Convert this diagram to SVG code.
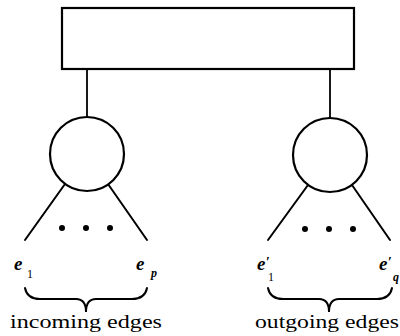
<svg xmlns="http://www.w3.org/2000/svg" width="400" height="336" viewBox="0 0 400 336">
<style>
.s{fill:none;stroke:#000;stroke-linecap:round}
.n{fill:#fff;stroke:#000;stroke-width:2.2}
.d{fill:#000}
.t{font-family:"Liberation Serif",serif;font-size:18px;fill:#000}
.e{font-family:"Liberation Serif",serif;font-style:italic;font-weight:bold;font-size:19px;fill:#000}
.sub{font-family:"Liberation Serif",serif;font-size:12px;fill:#000}
.si{font-family:"Liberation Serif",serif;font-style:italic;font-weight:bold;font-size:12px;fill:#000}
.pr{font-family:"Liberation Serif",serif;font-weight:bold;font-size:14px;fill:#000}
</style>
<g id="connectors">
<path class="s" stroke-width="1.8" d="M87,69 V117 M330,70 V118"/>
<path class="s" stroke-width="2" d="M65,184 L25,240 M108,184 L147,240 M308,185 L268,240 M352,185 L390,240"/>
<path class="s" stroke-width="2" d="M25,288 Q27,299 40,299 L76,299 Q86,299 86,312 Q86,299 96,299 L132,299 Q145,299 147,288"/>
<path class="s" stroke-width="2" d="M268,288 Q270,299 283,299 L319,299 Q329,299 329,312 Q329,299 339,299 L377,299 Q390,299 392,288"/>
</g>
<g id="top"><rect class="n" x="62" y="8" width="292" height="61" stroke-width="2.5"/></g>
<g id="left"><circle class="n" cx="87" cy="154" r="37"/></g>
<g id="right"><circle class="n" cx="330" cy="155" r="37"/></g>
<g id="dots">
<circle class="d" cx="62" cy="228" r="3"/><circle class="d" cx="86" cy="228" r="3"/><circle class="d" cx="110" cy="228" r="3"/>
<circle class="d" cx="305" cy="229" r="3"/><circle class="d" cx="329" cy="229" r="3"/><circle class="d" cx="353" cy="229" r="3"/>
</g>
<g id="labels">
<text class="e" x="14" y="270">e</text><text class="sub" x="27" y="278">1</text>
<text class="e" x="136" y="270">e</text><text class="si" x="151" y="277">p</text>
<text class="e" x="257" y="270">e</text><text class="pr" x="266" y="267">′</text><text class="sub" x="268" y="281">1</text>
<text class="e" x="379" y="270">e</text><text class="pr" x="388" y="267">′</text><text class="si" x="393" y="281">q</text>
<text class="t" x="10" y="328" textLength="152" lengthAdjust="spacingAndGlyphs">incoming edges</text>
<text class="t" x="255" y="328" textLength="144" lengthAdjust="spacingAndGlyphs">outgoing edges</text>
</g>
</svg>
